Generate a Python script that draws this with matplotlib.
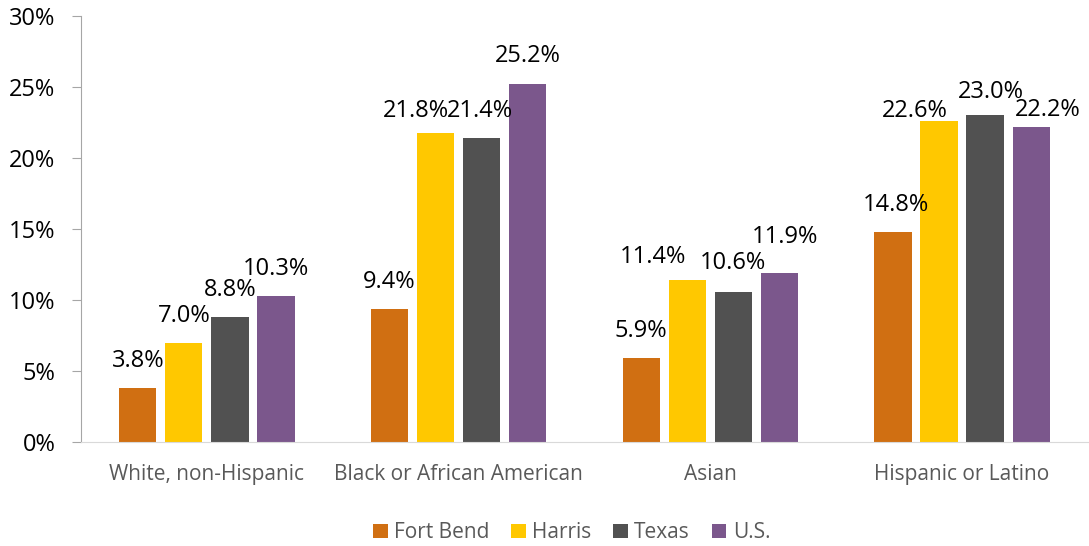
import matplotlib.pyplot as plt
import numpy as np

categories = ['White, non-Hispanic', 'Black or African American', 'Asian', 'Hispanic or Latino']
series = ['Fort Bend', 'Harris', 'Texas', 'U.S.']
fort_bend = [3.8, 9.4, 5.9, 14.8]
harris = [7.0, 21.8, 11.4, 22.6]
texas = [8.8, 21.4, 10.6, 23.0]
us = [10.3, 25.2, 11.9, 22.2]
colors = ['#D06F12', '#FFC800', '#515151', '#7B578C']

# label nudges in pixels (dx, height of label centre above bar top), per series per category
nudges = [
    [(0, 27), (0, 27), (0, 27), (3, 27)],
    [(0, 27), (-20, 22), (-34, 23), (-24, 10)],
    [(0, 27), (-2, 27), (0, 29), (6, 23)],
    [(0, 27), (0, 28), (6, 36), (17, 17)],
]

fig = plt.figure(figsize=(10.89, 5.46), dpi=100)
ax = fig.add_axes([0.0744, 0.1905, 0.9246, 0.780])

x = np.arange(len(categories))
step = 0.183
width = 0.148
px = 72 / fig.dpi
for i, (name, vals) in enumerate(zip(series, [fort_bend, harris, texas, us])):
    pos = x + (i - 1.5) * step
    ax.bar(pos, vals, width=width, color=colors[i], label=name)
    for j, v in enumerate(vals):
        dx, dy = nudges[i][j]
        ax.annotate(f'{v:.1f}%', (pos[j], v), xytext=(dx * px, dy * px),
                    textcoords='offset points', ha='center', va='center',
                    fontsize=17, family='Open Sans', color='black')

ax.set_xlim(-0.5, 3.5)
ax.set_ylim(0, 30)
ax.set_yticks(range(0, 31, 5))
ax.set_yticklabels([f'{t}%' for t in range(0, 31, 5)], fontsize=17, family='Open Sans')
ax.set_xticks(x)
ax.set_xticklabels(categories, fontsize=15, family='Open Sans', color='#595959')
ax.tick_params(axis='x', length=0, pad=16)
ax.tick_params(axis='y', length=6.5, color='#A6A6A6', pad=12, direction='out')
for s in ['top', 'right']:
    ax.spines[s].set_visible(False)
ax.spines['left'].set_color('#A6A6A6')
ax.spines['bottom'].set_color('#D9D9D9')

ax.legend(loc='center', bbox_to_anchor=(0.525, 0.024), bbox_transform=fig.transFigure,
          ncol=4, frameon=False, prop={'family': 'Open Sans', 'size': 15}, labelcolor='#595959',
          handlelength=0.7, handleheight=0.7, handletextpad=0.3, columnspacing=1.05)

fig.savefig('out.png', dpi=100)
